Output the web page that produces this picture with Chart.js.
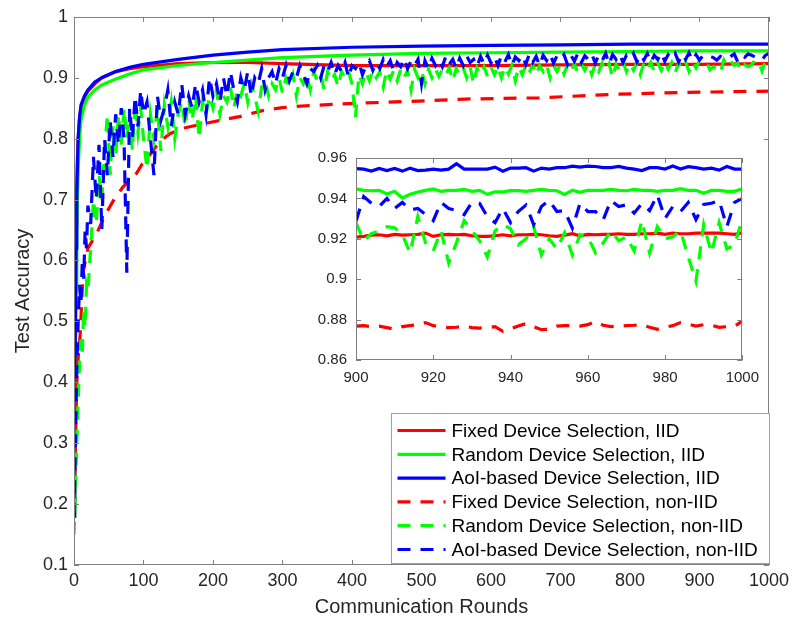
<!DOCTYPE html>
<html>
<head>
<meta charset="utf-8">
<script src="https://cdn.jsdelivr.net/npm/chart.js@4"></script>
<style>
  body { margin: 0; background: #fff; }
  #wrap { position: relative; width: 794px; height: 620px; }
  #main { position: absolute; left: 0; top: 0; }
  #inset { position: absolute; left: 300px; top: 140px; background: #fff; }
</style>
</head>
<body>
<div id="wrap">
  <canvas id="main" width="794" height="620"></canvas>
  <canvas id="inset" width="468" height="255"></canvas>
</div>
<script>
// ---- main plot data ----
const iidRounds = [0,1,2,3,4,5,6,8,10,15,20,30,40,60,80,100,150,200,250,300,400,500,600,700,800,900,1000];
const fixedIid  = [0.2,0.4,0.55,0.66,0.72,0.77,0.8,0.835,0.85,0.868,0.878,0.89,0.9,0.91,0.915,0.918,0.923,0.925,0.925,0.923,0.92,0.92,0.92,0.921,0.922,0.922,0.923];
const randomIid = [0.18,0.3,0.43,0.55,0.64,0.7,0.75,0.8,0.83,0.855,0.868,0.88,0.888,0.898,0.906,0.913,0.92,0.925,0.929,0.933,0.937,0.94,0.941,0.942,0.943,0.944,0.944];
const aoiIid    = [0.18,0.35,0.5,0.62,0.7,0.76,0.8,0.835,0.855,0.87,0.88,0.893,0.9,0.91,0.917,0.922,0.93,0.937,0.942,0.946,0.95,0.952,0.953,0.954,0.955,0.955,0.955];

const fixedNonIidRounds = [0,2,4,6,9,11,13,20,33,44,56,70,90,98,113,123,138,156,181,214,238,271,300,334,406,482,564,669,783,884,1000];
const fixedNonIid = [0.2,0.3,0.4,0.44,0.48,0.53,0.58,0.62,0.645,0.673,0.697,0.72,0.743,0.758,0.779,0.795,0.808,0.817,0.823,0.831,0.836,0.846,0.851,0.854,0.858,0.861,0.865,0.867,0.873,0.876,0.878];

const nonIidRounds = [
  0,2,4,6,8,10,12,14,16,18,20,
  24,28,32,36,40,44,48,52,56,60,64,68,72,76,80,84,88,92,96,100,
  105,110,115,120,125,130,135,140,145,150,
  155,160,165,170,175,180,185,190,195,200,
  205,210,215,220,225,230,235,240,245,250,
  255,260,265,270,275,280,285,290,295,300,
  305,310,315,320,325,330,335,340,345,350,
  355,360,365,370,375,380,385,390,395,400,
  405,410,415,420,425,430,435,440,445,450,
  455,460,465,470,475,480,485,490,495,500,
  505,510,515,520,525,530,535,540,545,550,
  555,560,565,570,575,580,585,590,595,600,
  605,610,615,620,625,630,635,640,645,650,
  655,660,665,670,675,680,685,690,695,700,
  705,710,715,720,725,730,735,740,745,750,
  755,760,765,770,775,780,785,790,795,800,
  805,810,815,820,825,830,835,840,845,850,
  855,860,865,870,875,880,885,890,895,900,
  905,910,915,920,925,930,935,940,945,950,
  955,960,965,970,975,980,985,990,995,1000
];
const randomNonIid = [
  0.15,0.22,0.30,0.37,0.43,0.47,0.45,0.52,0.49,0.56,0.55,
  0.62,0.70,0.66,0.74,0.70,0.78,0.84,0.74,0.82,0.77,0.84,0.79,0.85,0.80,0.84,0.78,0.86,0.81,0.85,0.80,
  0.75,0.84,0.80,0.85,0.78,0.855,0.82,0.86,0.80,0.84,
  0.86,0.82,0.865,0.83,0.87,0.80,0.86,0.84,0.87,0.85,
  0.88,0.84,0.87,0.86,0.885,0.85,0.88,0.87,0.89,0.86,
  0.89,0.87,0.845,0.885,0.895,0.87,0.89,0.88,0.90,0.875,
  0.90,0.885,0.905,0.87,0.90,0.89,0.905,0.88,0.91,0.895,
  0.905,0.88,0.91,0.895,0.905,0.885,0.91,0.90,0.91,0.89,
  0.835,0.905,0.89,0.91,0.895,0.912,0.90,0.91,0.885,0.912,
  0.898,0.912,0.895,0.913,0.90,0.912,0.88,0.914,0.90,0.912,
  0.89,0.914,0.90,0.915,0.902,0.914,0.905,0.916,0.895,0.915,
  0.905,0.916,0.90,0.918,0.89,0.916,0.905,0.918,0.902,0.917,
  0.905,0.919,0.90,0.918,0.906,0.92,0.895,0.918,0.905,0.92,
  0.908,0.921,0.905,0.92,0.91,0.921,0.90,0.92,0.91,0.922,
  0.906,0.921,0.91,0.923,0.908,0.922,0.912,0.923,0.905,0.922,
  0.91,0.924,0.912,0.923,0.90,0.922,0.912,0.925,0.91,0.923,
  0.912,0.925,0.905,0.924,0.914,0.925,0.91,0.924,0.912,0.926,
  0.914,0.925,0.908,0.924,0.915,0.926,0.91,0.925,0.916,0.928,
  0.924,0.926,0.913,0.918,0.914,0.908,0.929,0.919,0.927,0.92,
  0.923,0.912,0.921,0.918,0.921,0.929,0.926,0.911,0.928,0.93
];
const aoiNonIid = [
  0.18,0.30,0.42,0.50,0.56,0.53,0.60,0.57,0.65,0.62,0.69,
  0.66,0.77,0.70,0.79,0.65,0.80,0.74,0.83,0.77,0.84,0.79,0.85,0.80,0.58,0.85,0.80,0.87,0.82,0.88,0.84,
  0.86,0.80,0.74,0.87,0.83,0.85,0.88,0.82,0.86,0.84,
  0.89,0.84,0.87,0.85,0.89,0.86,0.88,0.84,0.90,0.87,
  0.89,0.86,0.90,0.87,0.91,0.88,0.86,0.90,0.88,0.91,
  0.87,0.90,0.89,0.915,0.88,0.90,0.91,0.89,0.915,0.90,
  0.92,0.895,0.91,0.90,0.92,0.905,0.89,0.915,0.91,0.92,
  0.90,0.92,0.91,0.925,0.905,0.92,0.91,0.925,0.90,0.92,
  0.915,0.925,0.905,0.92,0.928,0.912,0.925,0.915,0.93,0.918,
  0.928,0.91,0.925,0.918,0.932,0.915,0.928,0.92,0.93,0.89,
  0.928,0.915,0.932,0.92,0.93,0.918,0.935,0.922,0.93,0.915,
  0.932,0.92,0.936,0.925,0.93,0.918,0.935,0.922,0.937,0.924,
  0.935,0.92,0.936,0.926,0.938,0.92,0.934,0.928,0.937,0.922,
  0.938,0.925,0.935,0.92,0.937,0.928,0.939,0.924,0.936,0.93,
  0.938,0.922,0.937,0.927,0.94,0.925,0.936,0.93,0.939,0.924,
  0.937,0.928,0.94,0.922,0.938,0.93,0.939,0.925,0.937,0.931,
  0.94,0.926,0.938,0.929,0.94,0.925,0.937,0.93,0.941,0.927,
  0.938,0.931,0.94,0.926,0.939,0.93,0.941,0.928,0.938,0.929,
  0.936,0.938,0.935,0.933,0.929,0.935,0.932,0.931,0.935,0.939,
  0.926,0.936,0.9335,0.939,0.937,0.934,0.934,0.9295,0.937,0.94
];

// ---- inset data, rounds 900..1000 ----
const insetRounds = [
  900,902,904,906,908,910,912,914,916,918,
  920,922,924,926,928,930,932,934,936,938,
  940,942,944,946,948,950,952,954,956,958,
  960,962,964,966,968,970,972,974,976,978,
  980,982,984,986,988,990,992,994,996,998,
  1000
];
const insetFixedIid = [
  .9208,.9212,.9218,.9220,.9215,.9222,.9218,.9220,.9222,.9228,
  .9212,.9220,.9222,.9220,.9222,.9215,.9212,.9212,.9215,.9220,
  .9215,.9220,.9220,.9222,.9220,.9215,.9212,.9218,.9225,.9215,
  .9222,.9220,.9222,.9222,.9225,.9222,.9222,.9225,.9225,.9228,
  .9222,.9228,.9225,.9225,.9228,.9228,.9228,.9228,.9225,.9222,
  .9230
];
const insetRandomIid = [
  .9447,.9440,.9438,.9440,.9422,.9435,.9402,.9420,.9432,.9440,
  .9447,.9435,.9440,.9440,.9445,.9435,.9440,.9420,.9432,.9432,
  .9438,.9438,.9435,.9440,.9445,.9440,.9438,.9420,.9440,.9430,
  .9440,.9440,.9440,.9445,.9440,.9438,.9445,.9440,.9440,.9435,
  .9440,.9440,.9448,.9440,.9440,.9425,.9440,.9440,.9435,.9435,
  .9448
];
const insetAoiIid = [
  .9547,.9545,.9535,.9548,.9538,.9548,.9535,.9550,.9538,.9540,
  .9545,.9540,.9545,.9572,.9545,.9545,.9545,.9545,.9555,.9535,
  .9550,.9550,.9552,.9535,.9550,.9545,.9552,.9552,.9560,.9555,
  .9560,.9558,.9552,.9552,.9558,.9550,.9545,.9538,.9552,.9552,
  .9545,.9560,.9545,.9557,.9552,.9545,.9550,.9540,.9558,.9545,
  .9545
];
const insetFixedNonIid = [
  .8768,.8770,.8765,.8768,.8760,.8752,.8765,.8770,.8775,.8785,
  .8770,.8765,.8760,.8762,.8768,.8760,.8758,.8760,.8765,.8742,
  .8755,.8768,.8780,.8765,.8750,.8752,.8768,.8770,.8770,.8768,
  .8775,.8790,.8772,.8765,.8768,.8770,.8772,.8775,.8762,.8752,
  .8762,.8770,.8785,.8778,.8768,.8775,.8772,.8762,.8765,.8768,
  .8792
];
const insetRandomNonIid = [
  .928,.919,.9225,.924,.926,.9255,.922,.913,.931,.918,
  .914,.924,.908,.918,.929,.924,.919,.911,.924,.927,
  .925,.917,.920,.926,.912,.920,.915,.923,.912,.922,
  .921,.913,.918,.924,.919,.921,.914,.929,.913,.926,
  .920,.921,.924,.911,.899,.927,.913,.928,.915,.917,
  .930
];
const insetAoiNonIid = [
  .9287,.9409,.9376,.936,.940,.935,.938,.9343,.935,.932,
  .929,.938,.935,.934,.932,.938,.9375,.931,.928,.935,
  .928,.9335,.9367,.927,.936,.939,.9335,.934,.9253,.9376,
  .9335,.9335,.9295,.939,.936,.9368,.9327,.9375,.934,.9417,
  .930,.936,.9335,.938,.9295,.937,.9376,.939,.926,.938,
  .940
];

const labels = [
  'Fixed Device Selection, IID',
  'Random Device Selection, IID',
  'AoI-based Device Selection, IID',
  'Fixed Device Selection, non-IID',
  'Random Device Selection, non-IID',
  'AoI-based Device Selection, non-IID'
];
const RED = '#ff0000', GREEN = '#00ff00', BLUE = '#0000ff';
const DASH = [13, 10];

Chart.defaults.font.family = '"Liberation Sans", Arial, Helvetica, sans-serif';
Chart.defaults.color = '#262626';

const pts = (xs, ys) => xs.map((x, i) => ({ x: x, y: ys[i] }));

function line(label, xs, ys, color, dashed, idx) {
  return {
    label: label,
    data: pts(xs, ys),
    borderColor: color,
    backgroundColor: color,
    borderWidth: 3.2,
    borderDash: dashed ? DASH : [],
    pointRadius: 0,
    tension: 0,
    fill: false,
    order: 6 - idx  // later series on top, like the original
  };
}

// box round the plot with inward ticks on all four sides
const frameTicks = {
  id: 'frameTicks',
  afterDatasetsDraw(chart) {
    const { ctx, chartArea: a, scales } = chart;
    const len = 5;
    ctx.save();
    ctx.strokeStyle = '#7f7f7f';
    ctx.lineWidth = 1;
    ctx.setLineDash([]);
    ctx.strokeRect(Math.round(a.left) + 0.5, Math.round(a.top) + 0.5, Math.round(a.width) - 1, Math.round(a.height) - 1);
    ctx.beginPath();
    scales.x.ticks.forEach(t => {
      const px = Math.round(scales.x.getPixelForValue(t.value)) + 0.5;
      ctx.moveTo(px, a.bottom); ctx.lineTo(px, a.bottom - len);
      ctx.moveTo(px, a.top); ctx.lineTo(px, a.top + len);
    });
    scales.y.ticks.forEach(t => {
      const py = Math.round(scales.y.getPixelForValue(t.value)) + 0.5;
      ctx.moveTo(a.left, py); ctx.lineTo(a.left + len, py);
      ctx.moveTo(a.right, py); ctx.lineTo(a.right - len, py);
    });
    ctx.stroke();
    ctx.restore();
  }
};

// legend box in the lower right corner of the main axes
const legendBox = {
  id: 'legendBox',
  afterDraw(chart) {
    const { ctx, chartArea: a } = chart;
    const w = 378, h = 150;
    const x0 = Math.round(a.right) - w + 0.5, y0 = Math.round(a.bottom) - h - 2 + 0.5;
    ctx.save();
    ctx.fillStyle = '#fff';
    ctx.fillRect(x0, y0, w, h);
    ctx.strokeStyle = '#a0a0a0';
    ctx.lineWidth = 1;
    ctx.strokeRect(x0, y0, w, h);
    ctx.font = '19px "Liberation Sans", Arial, sans-serif';
    ctx.textBaseline = 'middle';
    ctx.fillStyle = '#000';
    chart.data.datasets.forEach((ds, i) => {
      const cy = y0 + 17 + i * 23.8;
      ctx.strokeStyle = ds.borderColor;
      ctx.lineWidth = 3.2;
      ctx.setLineDash(ds.borderDash);
      ctx.beginPath();
      ctx.moveTo(x0 + 6, cy);
      ctx.lineTo(x0 + 54, cy);
      ctx.stroke();
      ctx.setLineDash([]);
      ctx.fillText(ds.label, x0 + 60, cy + 1);
    });
    ctx.restore();
  }
};

const tickFont = { size: 18 };

new Chart(document.getElementById('main'), {
  type: 'line',
  data: {
    datasets: [
      line(labels[0], iidRounds, fixedIid, RED, false, 0),
      line(labels[1], iidRounds, randomIid, GREEN, false, 1),
      line(labels[2], iidRounds, aoiIid, BLUE, false, 2),
      line(labels[3], fixedNonIidRounds, fixedNonIid, RED, true, 3),
      line(labels[4], nonIidRounds, randomNonIid, GREEN, true, 4),
      line(labels[5], nonIidRounds, aoiNonIid, BLUE, true, 5)
    ]
  },
  options: {
    responsive: false,
    animation: false,
    devicePixelRatio: 1,
    layout: { padding: { top: 15, right: 23, left: 0, bottom: 0 } },
    plugins: { legend: { display: false }, tooltip: { enabled: false } },
    scales: {
      x: {
        type: 'linear', min: 0, max: 1000,
        grid: { display: false, drawTicks: false },
        border: { display: false },
        ticks: { stepSize: 100, padding: 5, font: tickFont, maxRotation: 0, callback: v => String(v) },
        title: { display: true, text: 'Communication Rounds', font: { size: 20 }, padding: { top: 0, bottom: 1 } },
        afterFit: s => { s.height = 55; }
      },
      y: {
        type: 'linear', min: 0.1, max: 1,
        grid: { display: false, drawTicks: false },
        border: { display: false },
        ticks: { stepSize: 0.1, padding: 6, font: tickFont, callback: v => String(+v.toFixed(2)) },
        title: { display: true, text: 'Test Accuracy', font: { size: 20 }, padding: { top: 11, bottom: 0 } },
        afterFit: s => { s.width = 74; }
      }
    }
  },
  plugins: [frameTicks, legendBox]
});

const insetFont = { size: 15 };

new Chart(document.getElementById('inset'), {
  type: 'line',
  data: {
    datasets: [
      line(labels[0], insetRounds, insetFixedIid, RED, false, 0),
      line(labels[1], insetRounds, insetRandomIid, GREEN, false, 1),
      line(labels[2], insetRounds, insetAoiIid, BLUE, false, 2),
      line(labels[3], insetRounds, insetFixedNonIid, RED, true, 3),
      line(labels[4], insetRounds, insetRandomNonIid, GREEN, true, 4),
      line(labels[5], insetRounds, insetAoiNonIid, BLUE, true, 5)
    ]
  },
  options: {
    responsive: false,
    animation: false,
    devicePixelRatio: 1,
    layout: { padding: { top: 16, right: 22, left: 0, bottom: 0 } },
    plugins: { legend: { display: false }, tooltip: { enabled: false } },
    scales: {
      x: {
        type: 'linear', min: 900, max: 1000,
        grid: { display: false, drawTicks: false },
        border: { display: false },
        ticks: { stepSize: 20, padding: 9, font: insetFont, maxRotation: 0, callback: v => String(v) },
        afterFit: s => { s.height = 35; }
      },
      y: {
        type: 'linear', min: 0.86, max: 0.96,
        grid: { display: false, drawTicks: false },
        border: { display: false },
        ticks: { stepSize: 0.02, padding: 9, font: insetFont, callback: v => String(+v.toFixed(2)) },
        afterFit: s => { s.width = 56; }
      }
    }
  },
  plugins: [frameTicks]
});
</script>
</body>
</html>
